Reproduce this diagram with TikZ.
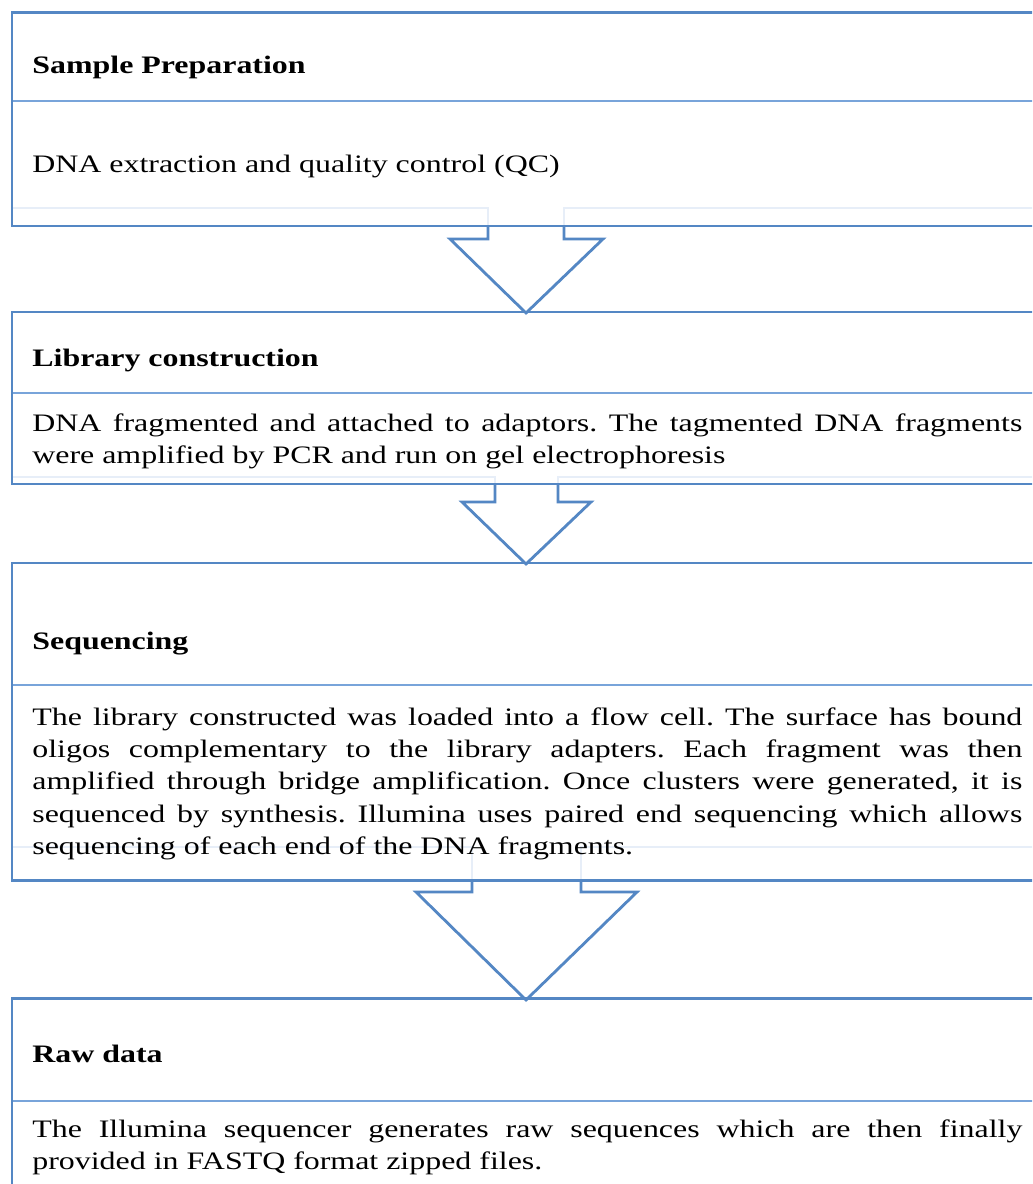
\documentclass[tikz,border=0pt]{standalone}
\usepackage{fontspec}
\setmainfont{Liberation Serif}[FakeStretch=1.27]
\frenchspacing
\definecolor{boxblue}{RGB}{84,135,196}
\definecolor{divblue}{RGB}{120,164,218}
\definecolor{faintblue}{RGB}{231,238,248}
\tikzset{
  boxline/.style={draw=boxblue, line width=1.7pt},
  divline/.style={draw=divblue, line width=1.4pt},
  faintline/.style={draw=faintblue, line width=1.3pt},
  arrowline/.style={draw=boxblue, line width=1.6pt, line join=miter},
  headtext/.style={anchor=base west, inner sep=0pt, font=\fontsize{14.3pt}{18.4pt}\selectfont\bfseries},
  bodytext/.style={anchor=base west, inner sep=0pt, text width=19.8cm, align=justify, font=\fontsize{14.3pt}{18.4pt}\selectfont}
}
\begin{document}
\begin{tikzpicture}
\useasboundingbox (0,0) rectangle (20.64,-23.68);
\clip (0,0) rectangle (20.64,-23.68);
\fill[white] (0,0) rectangle (20.64,-23.68);
% sample preparation
\draw[faintline] (0.24,-4.16) -- (9.76,-4.16) -- (9.76,-4.52);
\draw[faintline] (11.28,-4.52) -- (11.28,-4.16) -- (21.000,-4.16);
\draw[divline] (0.24,-2.02) -- (21.000,-2.02);
\draw[boxline] (21.000,-0.26) -- (0.24,-0.26) -- (0.24,-4.52) -- (21.000,-4.52);
\node[headtext] (samplehead) at (0.64,-1.48) {Sample Preparation};
\node[bodytext] (samplebody) at (0.64,-3.45) {DNA extraction and quality control (QC)};
\draw[arrowline] (9.76,-4.52) -- (9.76,-4.78) -- (9.00,-4.78) -- (10.52,-6.26) -- (12.06,-4.78) -- (11.28,-4.78) -- (11.28,-4.52);
% library construction
\draw[faintline] (0.24,-9.54) -- (9.90,-9.54) -- (9.90,-9.68);
\draw[faintline] (11.16,-9.68) -- (11.16,-9.54) -- (21.000,-9.54);
\draw[divline] (0.24,-7.86) -- (21.000,-7.86);
\draw[boxline] (21.000,-6.24) -- (0.24,-6.24) -- (0.24,-9.68) -- (21.000,-9.68);
\node[headtext] (libhead) at (0.64,-7.34) {Library construction};
\node[bodytext] (libbody) at (0.64,-8.62) {DNA fragmented and attached to adaptors. The tagmented DNA fragments\linebreak were amplified by PCR and run on gel electrophoresis};
\draw[arrowline] (9.90,-9.68) -- (9.90,-10.04) -- (9.24,-10.04) -- (10.52,-11.28) -- (11.82,-10.04) -- (11.16,-10.04) -- (11.16,-9.68);
% sequencing
\draw[faintline] (0.24,-16.94) -- (9.44,-16.94) -- (9.44,-17.60);
\draw[faintline] (11.62,-17.60) -- (11.62,-16.94) -- (21.000,-16.94);
\draw[divline] (0.24,-13.70) -- (21.000,-13.70);
\draw[boxline] (21.000,-11.26) -- (0.24,-11.26) -- (0.24,-17.60) -- (21.000,-17.60);
\node[headtext] (seqhead) at (0.64,-12.98) {Sequencing};
\node[bodytext] (seqbody) at (0.64,-14.50) {The library constructed was loaded into a flow cell. The surface has bound\linebreak oligos complementary to the library adapters. Each fragment was then\linebreak amplified through bridge amplification. Once clusters were generated, it is\linebreak sequenced by synthesis. Illumina uses paired end sequencing which allows\linebreak sequencing of each end of the DNA fragments.};
\draw[arrowline] (9.44,-17.60) -- (9.44,-17.84) -- (8.32,-17.84) -- (10.52,-20.00) -- (12.74,-17.84) -- (11.62,-17.84) -- (11.62,-17.60);
% raw data
\draw[divline] (0.24,-22.02) -- (21.000,-22.02);
\draw[boxline] (21.000,-19.96) -- (0.24,-19.96) -- (0.24,-24.000);
\node[headtext] (rawhead) at (0.64,-21.24) {Raw data};
\node[bodytext] (rawbody) at (0.64,-22.74) {The Illumina sequencer generates raw sequences which are then finally\linebreak provided in FASTQ format zipped files.};
\end{tikzpicture}
\end{document}
